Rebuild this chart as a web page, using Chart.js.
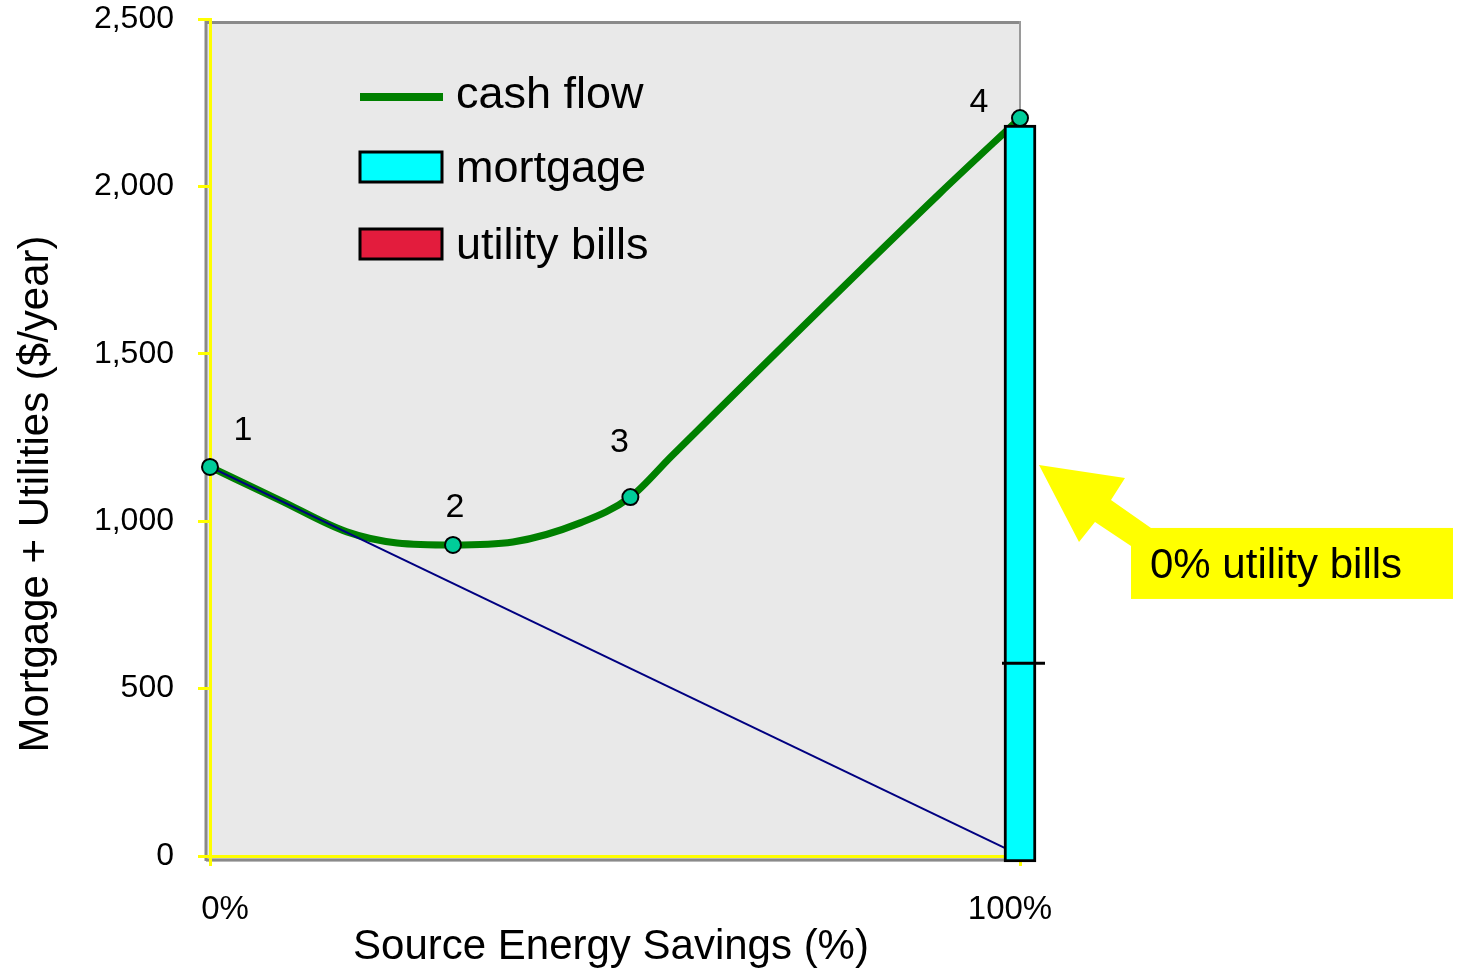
<!DOCTYPE html>
<html>
<head>
<meta charset="utf-8">
<script src="https://cdn.jsdelivr.net/npm/chart.js@4/dist/chart.umd.min.js"></script>
<style>
  html, body { margin: 0; padding: 0; background: #fff; }
  #wrap { width: 1465px; height: 977px; }
</style>
</head>
<body>
<div id="wrap"><canvas id="energyChart" width="1465" height="977"></canvas></div>
<script>
const FONT = "'Liberation Sans', Arial, sans-serif";

// axis ticks
const xTickValues = [0, 100];
const xTickLabels = ["0%", "100%"];
const yTickValues = [0, 500, 1000, 1500, 2000, 2500];
const xTitle = "Source Energy Savings (%)";
const yTitle = "Mortgage + Utilities ($/year)";

// cash flow curve
const cashFlowX = [0, 8.6, 16.9, 23.1, 30, 37.4, 45.7, 51.9, 57, 90, 100];
const cashFlowY = [1162, 1063, 968, 935, 929, 938, 995, 1072, 1195, 1977, 2204];

// numbered points on the curve
const pointLabels = ["1", "2", "3", "4"];
const pointX = [0, 30, 51.9, 100];
const pointY = [1162, 929, 1072, 2204];

// utility bills line
const utilityX = [0, 98.1];
const utilityY = [1162, 24];

// mortgage bar at 100% savings
const mortgageX = [100];
const mortgageLow = [-18];
const mortgageHigh = [2183];
const mortgageMarks = [576];

const legendLabels = ["cash flow", "mortgage", "utility bills"];
const calloutText = "0% utility bills";
const calloutValue = 1168;

const toPoints = (xs, ys) => xs.map((x, i) => ({ x: x, y: ys[i] }));

// grey plot background with its offset frame
const plotBackground = {
  id: "plotBackground",
  beforeDraw(chart) {
    const { ctx, chartArea: a } = chart;
    ctx.save();
    ctx.fillStyle = "#e9e9e9";
    ctx.fillRect(a.left - 4, a.top + 2, a.right - a.left + 4, a.bottom - a.top + 4);
    ctx.strokeStyle = "#8a8a8a";
    ctx.lineWidth = 3;
    ctx.beginPath();
    ctx.moveTo(a.left - 4, a.bottom + 5);
    ctx.lineTo(a.left - 4, a.top + 3.5);
    ctx.lineTo(a.right, a.top + 3.5);
    ctx.moveTo(a.left - 4, a.bottom + 4);
    ctx.lineTo(a.right, a.bottom + 4);
    ctx.stroke();
    ctx.strokeStyle = "#9a9a9a";
    ctx.lineWidth = 2;
    ctx.beginPath();
    ctx.moveTo(a.right, a.top + 2);
    ctx.lineTo(a.right, a.bottom + 4);
    ctx.stroke();
    ctx.restore();
  },
};

// labels, titles, legend, bar mark and callout
const extras = {
  id: "extras",
  afterDraw(chart) {
    const { ctx } = chart;
    const xs = chart.scales.x;
    const ys = chart.scales.y;
    ctx.save();
    ctx.fillStyle = "#000";

    // x tick labels
    ctx.font = "33px " + FONT;
    ctx.textAlign = "center";
    ctx.textBaseline = "alphabetic";
    const xLabelShift = [15, -10];
    xTickValues.forEach((v, i) => {
      ctx.fillText(xTickLabels[i], xs.getPixelForValue(v) + xLabelShift[i], 919);
    });

    // axis titles
    ctx.font = "42px " + FONT;
    ctx.fillText(xTitle, 611, 959);
    ctx.save();
    ctx.translate(48, 494);
    ctx.rotate(-Math.PI / 2);
    ctx.fillText(yTitle, 0, 0);
    ctx.restore();

    // point numbers
    ctx.font = "34px " + FONT;
    const numShift = [[33, -27], [2, -28], [-11, -45], [-41, -6]];
    pointLabels.forEach((t, i) => {
      const px = xs.getPixelForValue(pointX[i]);
      const py = ys.getPixelForValue(pointY[i]);
      ctx.fillText(t, px + numShift[i][0], py + numShift[i][1]);
    });

    // mortgage bar division mark
    const bar = chart.getDatasetMeta(1).data[0];
    ctx.strokeStyle = "#000";
    ctx.lineWidth = 3;
    mortgageMarks.forEach((v) => {
      const py = ys.getPixelForValue(v);
      ctx.beginPath();
      ctx.moveTo(bar.x - bar.width / 2 - 2, py);
      ctx.lineTo(bar.x + bar.width / 2 + 9, py);
      ctx.stroke();
    });

    // legend
    ctx.font = "45px " + FONT;
    ctx.textAlign = "left";
    ctx.strokeStyle = "#008000";
    ctx.lineWidth = 8;
    ctx.beginPath();
    ctx.moveTo(360, 97);
    ctx.lineTo(443, 97);
    ctx.stroke();
    ctx.strokeStyle = "#000";
    ctx.lineWidth = 3;
    ctx.fillStyle = "#00ffff";
    ctx.fillRect(360, 152, 82, 30);
    ctx.strokeRect(360, 152, 82, 30);
    ctx.fillStyle = "#e31c3d";
    ctx.fillRect(360, 229, 82, 30);
    ctx.strokeRect(360, 229, 82, 30);
    ctx.fillStyle = "#000";
    const legendBase = [108, 182, 259];
    legendLabels.forEach((t, i) => ctx.fillText(t, 456, legendBase[i]));

    // callout arrow and box
    const tx = bar.x + bar.width / 2 + 3;
    const ty = ys.getPixelForValue(calloutValue);
    ctx.fillStyle = "#ffff00";
    ctx.beginPath();
    [[0, 0], [86, 13], [72, 35], [112, 63], [92, 81], [56, 57], [40, 77]].forEach((p, i) => {
      if (i === 0) ctx.moveTo(tx + p[0], ty + p[1]);
      else ctx.lineTo(tx + p[0], ty + p[1]);
    });
    ctx.closePath();
    ctx.fill();
    ctx.fillRect(tx + 92, ty + 63, 322, 71);
    ctx.fillStyle = "#000";
    ctx.font = "42px " + FONT;
    ctx.fillText(calloutText, tx + 111, ty + 113);
    ctx.restore();
  },
};

new Chart(document.getElementById("energyChart"), {
  type: "line",
  data: {
    datasets: [
      {
        label: "points",
        data: toPoints(pointX, pointY),
        showLine: false,
        pointRadius: 8,
        pointBackgroundColor: "#00cc99",
        pointBorderColor: "#000",
        pointBorderWidth: 2,
        clip: false,
        order: 0,
      },
      {
        type: "bar",
        label: "mortgage",
        data: mortgageX.map((x, i) => ({ x: x, y: [mortgageLow[i], mortgageHigh[i]] })),
        backgroundColor: "#00ffff",
        borderColor: "#000",
        borderWidth: 3,
        borderSkipped: false,
        barThickness: 32,
        clip: false,
        order: 1,
      },
      {
        label: "utility bills",
        data: toPoints(utilityX, utilityY),
        borderColor: "#000080",
        borderWidth: 2,
        pointRadius: 0,
        tension: 0,
        order: 2,
      },
      {
        label: "cash flow",
        data: toPoints(cashFlowX, cashFlowY),
        borderColor: "#008000",
        borderWidth: 7,
        pointRadius: 0,
        cubicInterpolationMode: "monotone",
        clip: false,
        order: 3,
      },
    ],
  },
  options: {
    responsive: false,
    animation: false,
    layout: { padding: { top: 19, right: 445, left: 0, bottom: 0 } },
    plugins: { legend: { display: false }, tooltip: { enabled: false } },
    scales: {
      x: {
        type: "linear",
        min: 0,
        max: 100,
        offset: false,
        afterBuildTicks: (s) => { s.ticks = xTickValues.map((v) => ({ value: v })); },
        afterFit: (s) => { s.height = 121; s.paddingLeft = 0; s.paddingRight = 0; },
        ticks: { callback: () => "" },
        grid: { drawOnChartArea: false, offset: false, color: "#ffff00", lineWidth: 3, tickLength: 10 },
        border: { color: "#ffff00", width: 3 },
      },
      y: {
        min: 0,
        max: 2500,
        afterBuildTicks: (s) => { s.ticks = yTickValues.map((v) => ({ value: v })); },
        afterFit: (s) => { s.width = 210; s.paddingTop = 0; s.paddingBottom = 0; },
        ticks: {
          color: "#000",
          font: { family: FONT, size: 32 },
          padding: 24,
          callback: (v) => v.toLocaleString("en-US"),
        },
        grid: { drawOnChartArea: false, color: "#ffff00", lineWidth: 3, tickLength: 12 },
        border: { color: "#ffff00", width: 3 },
      },
    },
  },
  plugins: [plotBackground, extras],
});
</script>
</body>
</html>
